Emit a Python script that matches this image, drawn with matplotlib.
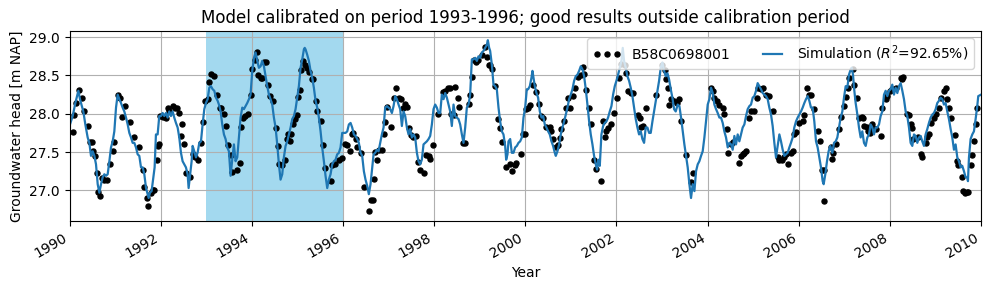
import matplotlib
matplotlib.use("Agg")
import matplotlib.pyplot as plt
import numpy as np

# observed heads (decimal year, m NAP)
obs_year = [
    1990.069, 1990.106, 1990.143, 1990.216, 1990.267, 1990.311, 1990.398, 1990.450, 1990.486, 1990.508,
    1990.567, 1990.603, 1990.632, 1990.676, 1990.713, 1990.764, 1990.815, 1990.895, 1990.947, 1990.983,
    1991.071, 1991.115, 1991.151, 1991.224, 1991.334, 1991.422, 1991.531, 1991.605, 1991.641, 1991.692,
    1991.729, 1991.780, 1991.824, 1991.853, 1991.911, 1991.933, 1991.970, 1991.992, 1992.043, 1992.116,
    1992.152, 1992.189, 1992.262, 1992.313, 1992.350, 1992.408, 1992.445, 1992.467, 1992.518, 1992.554,
    1992.643, 1992.701, 1992.760, 1992.810, 1992.884, 1992.935, 1992.971, 1993.030, 1993.067, 1993.096,
    1993.169, 1993.227, 1993.300,
    1993.315, 1993.388, 1993.424, 1993.475, 1993.534, 1993.556, 1993.680, 1993.731, 1993.768, 1993.804,
    1993.848, 1993.921, 1993.972, 1994.009, 1994.060, 1994.104, 1994.141, 1994.192, 1994.228, 1994.265,
    1994.301, 1994.353, 1994.389, 1994.462, 1994.521, 1994.572, 1994.594, 1994.652, 1994.718, 1994.762,
    1994.798, 1994.828, 1994.850, 1994.901, 1994.945, 1994.996, 1995.010, 1995.047, 1995.069, 1995.128,
    1995.164, 1995.208, 1995.252, 1995.310, 1995.347, 1995.398, 1995.435, 1995.508, 1995.559, 1995.595,
    1995.727, 1995.764, 1995.822, 1995.910, 1995.968, 1996.041, 1996.093, 1996.144, 1996.187, 1996.224,
    1996.275, 1996.312, 1996.385, 1996.458, 1996.567, 1996.604,
    1996.656, 1996.671, 1996.707, 1996.744, 1996.795, 1996.853, 1996.890, 1996.926, 1996.963, 1997.058,
    1997.109, 1997.168, 1997.219, 1997.270, 1997.314, 1997.365, 1997.402, 1997.438, 1997.489, 1997.533,
    1997.606, 1997.635, 1997.679, 1997.767, 1997.826, 1997.877, 1997.913, 1997.964, 1998.074, 1998.184,
    1998.242, 1998.293, 1998.337, 1998.374, 1998.425, 1998.461, 1998.520, 1998.556, 1998.622, 1998.681,
    1998.754, 1998.790, 1998.827, 1998.864, 1998.915, 1998.973, 1999.046, 1999.105, 1999.156, 1999.193,
    1999.229, 1999.280, 1999.339, 1999.390, 1999.434, 1999.485, 1999.580, 1999.668, 1999.704, 1999.763,
    1999.792, 1999.909, 1999.960,
    1999.989, 2000.026, 2000.062, 2000.099, 2000.172, 2000.245, 2000.296, 2000.355, 2000.391, 2000.464,
    2000.537, 2000.574, 2000.610, 2000.683, 2000.720, 2000.757, 2000.793, 2000.844, 2000.903, 2000.939,
    2000.976, 2001.049, 2001.085, 2001.159, 2001.217, 2001.268, 2001.290, 2001.341, 2001.393, 2001.451,
    2001.509, 2001.561, 2001.656, 2001.707, 2001.743, 2001.780, 2001.816, 2001.875, 2001.948, 2002.021,
    2002.058, 2002.094, 2002.182, 2002.204, 2002.255, 2002.313, 2002.365, 2002.474, 2002.526, 2002.548,
    2002.584, 2002.657, 2002.876, 2003.008, 2003.059, 2003.096, 2003.132, 2003.154, 2003.205, 2003.264,
    2003.322,
    2003.381, 2003.417, 2003.527, 2003.636, 2003.688, 2004.075, 2004.112, 2004.148, 2004.207, 2004.258,
    2004.331, 2004.353, 2004.426, 2004.455, 2004.514, 2004.550, 2004.682, 2004.733, 2004.769, 2004.806,
    2004.843, 2004.916, 2004.952, 2005.025, 2005.076, 2005.113, 2005.171, 2005.208, 2005.281, 2005.354,
    2005.427, 2005.537, 2005.574, 2005.625, 2005.669, 2005.720, 2005.756, 2005.829, 2005.866, 2005.902,
    2005.939, 2006.012, 2006.085, 2006.107, 2006.180, 2006.217, 2006.268, 2006.341, 2006.414, 2006.473,
    2006.502, 2006.560, 2006.546, 2006.707,
    2006.722, 2006.758, 2006.810, 2006.883, 2006.934, 2006.992, 2007.029, 2007.080, 2007.102, 2007.190,
    2007.212, 2007.270, 2007.321, 2007.380, 2007.416, 2007.431, 2007.489, 2007.519, 2007.563, 2007.614,
    2007.636, 2007.687, 2007.796, 2007.833, 2007.906, 2007.943, 2008.001, 2008.052, 2008.125, 2008.235,
    2008.272, 2008.294, 2008.381, 2008.418, 2008.454, 2008.491, 2008.513, 2008.615, 2008.674, 2008.710,
    2008.783, 2008.820, 2008.856, 2008.893, 2008.966, 2009.003, 2009.076, 2009.112, 2009.185, 2009.222,
    2009.258, 2009.295, 2009.346, 2009.427, 2009.463, 2009.500, 2009.573, 2009.609, 2009.639, 2009.683,
    2009.719, 2009.770, 2009.807, 2009.843, 2009.880, 2009.916,
]
obs_head = [
    27.76, 27.98, 28.14, 28.31, 28.20, 28.04, 27.84, 27.63, 27.63, 27.51,
    27.45, 27.22, 26.98, 26.93, 27.16, 27.14, 27.13, 27.34, 27.51, 27.63,
    28.25, 28.20, 27.96, 28.10, 27.89, 27.70, 27.57, 27.26, 27.04, 26.90,
    26.80, 26.96, 27.00, 27.00, 27.40, 27.58, 27.60, 27.97, 27.96, 27.95,
    28.07, 28.04, 28.10, 28.07, 28.08, 28.01, 27.71, 27.86, 27.61, 27.22,
    27.17, 27.47, 27.43, 27.40, 27.62, 27.89, 28.17, 28.19, 28.42, 28.52,
    28.49, 28.25, 28.08,
    28.08, 28.00, 27.84, 27.59, 27.46, 27.24, 27.27, 27.36, 27.83, 27.95,
    27.97, 28.00, 28.24, 28.58, 28.70, 28.81, 28.50, 28.47, 28.47, 28.67,
    28.67, 28.37, 28.23, 28.17, 27.82, 27.58, 27.34, 27.33, 27.40, 27.67,
    27.73, 27.65, 27.74, 27.86, 27.93, 27.99, 28.22, 28.31, 28.57, 28.69,
    28.64, 28.60, 28.55, 28.45, 28.46, 28.16, 28.03, 27.91, 27.59, 27.29,
    27.12, 27.33, 27.34, 27.40, 27.42, 27.60, 27.59, 27.52, 27.73, 27.75,
    27.67, 27.56, 27.49, 27.04, 26.73, 26.88,
    26.87, 27.15, 27.50, 27.40, 27.53, 27.53, 27.74, 27.89, 28.09, 27.83,
    28.20, 28.33, 28.20, 28.19, 28.07, 28.13, 28.09, 27.82, 27.72, 27.70,
    27.71, 27.37, 27.26, 27.22, 27.46, 27.45, 27.41, 27.59, 28.00, 28.28,
    28.30, 28.33, 28.33, 28.00, 27.98, 28.35, 28.20, 28.09, 27.62, 27.62,
    28.13, 28.25, 28.48, 28.70, 28.67, 28.70, 28.77, 28.87, 28.74, 28.64,
    28.63, 28.58, 28.36, 27.93, 27.82, 27.63, 27.30, 27.35, 27.25, 27.33,
    27.36, 27.48, 27.74,
    27.74, 28.06, 28.08, 28.11, 28.38, 28.28, 28.13, 27.97, 27.95, 27.83,
    27.83, 27.77, 27.67, 27.56, 27.59, 27.68, 27.80, 27.90, 28.08, 28.20,
    28.08, 28.23, 28.34, 28.48, 28.51, 28.61, 28.52, 28.31, 28.08, 27.87,
    27.39, 27.28, 27.12, 27.90, 27.69, 27.77, 27.82, 27.86, 28.01, 28.20,
    28.47, 28.65, 28.64, 28.53, 28.30, 28.27, 28.27, 27.98, 27.94, 27.83,
    27.84, 28.08, 28.24, 28.64, 28.57, 28.45, 28.34, 28.12, 28.19, 28.17,
    28.14,
    28.19, 27.90, 27.46, 27.11, 27.22, 28.34, 28.30, 28.21, 28.16, 28.11,
    28.08, 28.00, 27.80, 27.49, 27.60, 27.63, 27.36, 27.45, 27.47, 27.49,
    27.51, 27.95, 28.04, 28.03, 28.20, 28.34, 28.32, 28.34, 28.24, 28.23,
    28.04, 27.43, 27.39, 27.40, 27.43, 27.48, 27.34, 27.49, 27.51, 27.74,
    27.76, 27.88, 27.90, 27.98, 28.33, 28.25, 28.24, 28.06, 27.78, 27.64,
    27.26, 27.27, 26.86, 27.56,
    27.41, 27.49, 27.61, 27.80, 27.96, 28.10, 28.22, 28.34, 28.47, 28.58,
    28.38, 28.21, 27.95, 27.96, 27.95, 27.84, 27.83, 27.77, 27.75, 27.86,
    27.82, 27.80, 27.71, 28.08, 28.19, 28.23, 28.30, 28.32, 28.34, 28.47,
    28.45, 28.48, 28.00, 27.99, 27.86, 27.82, 27.67, 27.70, 27.47, 27.43,
    27.62, 27.69, 27.74, 27.88, 27.95, 28.00, 28.08, 28.21, 28.30, 28.34,
    28.19, 28.08, 27.94, 27.72, 27.38, 27.33, 27.17, 26.99, 26.97, 26.98,
    26.98, 27.33, 27.46, 27.64, 27.86, 28.08,
]

# simulated heads (decimal year, m NAP)
sim_year = [
    1990.010, 1990.069, 1990.128, 1990.194, 1990.230, 1990.252, 1990.303, 1990.347, 1990.398, 1990.435,
    1990.471, 1990.508, 1990.545, 1990.581, 1990.618, 1990.654, 1990.691, 1990.727, 1990.764, 1990.800,
    1990.837, 1990.874, 1990.910, 1990.947, 1990.983, 1991.020, 1991.056, 1991.093, 1991.129, 1991.166,
    1991.202, 1991.239, 1991.276, 1991.312, 1991.349, 1991.385, 1991.422, 1991.458, 1991.495, 1991.531,
    1991.568, 1991.605, 1991.641, 1991.678, 1991.714, 1991.736, 1991.765, 1991.801, 1991.838, 1991.867,
    1991.896, 1991.933, 1991.969, 1992.006, 1992.043, 1992.079, 1992.116, 1992.152, 1992.189, 1992.225,
    1992.262, 1992.298, 1992.335, 1992.372, 1992.408, 1992.445, 1992.481, 1992.518, 1992.554, 1992.591,
    1992.613, 1992.643, 1992.679, 1992.701, 1992.737, 1992.774, 1992.810, 1992.847, 1992.884, 1992.920,
    1992.957, 1992.993, 1993.030, 1993.067, 1993.103, 1993.140, 1993.176, 1993.213, 1993.249,
    1993.278, 1993.315, 1993.351, 1993.388, 1993.424, 1993.461, 1993.497, 1993.534, 1993.570, 1993.607,
    1993.643, 1993.680, 1993.717, 1993.753, 1993.790, 1993.826, 1993.863, 1993.899, 1993.936, 1993.972,
    1994.009, 1994.046, 1994.082, 1994.119, 1994.155, 1994.192, 1994.228, 1994.265, 1994.301, 1994.338,
    1994.375, 1994.411, 1994.448, 1994.484, 1994.521, 1994.557, 1994.594, 1994.630, 1994.667, 1994.703,
    1994.740, 1994.777, 1994.813, 1994.850, 1994.886, 1994.923, 1994.959, 1994.996, 1995.032, 1995.069,
    1995.106, 1995.142, 1995.160, 1995.179, 1995.215, 1995.252, 1995.288, 1995.325, 1995.361, 1995.398,
    1995.435, 1995.471, 1995.508, 1995.544, 1995.581, 1995.617, 1995.654, 1995.690, 1995.727, 1995.764,
    1995.800, 1995.837, 1995.873, 1995.910, 1995.946, 1995.983, 1996.019, 1996.056, 1996.093, 1996.129,
    1996.166, 1996.202, 1996.239, 1996.275, 1996.312, 1996.348, 1996.385, 1996.421, 1996.458, 1996.494,
    1996.531, 1996.567, 1996.604,
    1996.634, 1996.671, 1996.707, 1996.744, 1996.780, 1996.817, 1996.853, 1996.890, 1996.926, 1996.963,
    1997.000, 1997.036, 1997.073, 1997.109, 1997.146, 1997.182, 1997.219, 1997.255, 1997.292, 1997.328,
    1997.365, 1997.402, 1997.438, 1997.475, 1997.511, 1997.548, 1997.584, 1997.621, 1997.657, 1997.694,
    1997.730, 1997.767, 1997.804, 1997.840, 1997.877, 1997.913, 1997.950, 1997.986, 1998.023, 1998.059,
    1998.096, 1998.133, 1998.169, 1998.206, 1998.242, 1998.279, 1998.315, 1998.352, 1998.388, 1998.425,
    1998.461, 1998.498, 1998.535, 1998.571, 1998.608, 1998.644, 1998.681, 1998.717, 1998.754, 1998.790,
    1998.827, 1998.864, 1998.900, 1998.937, 1998.973, 1999.010, 1999.046, 1999.083, 1999.119, 1999.156,
    1999.178, 1999.207, 1999.229, 1999.266, 1999.302, 1999.339, 1999.375, 1999.412, 1999.448, 1999.485,
    1999.521, 1999.558, 1999.580, 1999.609, 1999.631, 1999.668, 1999.704, 1999.741, 1999.777, 1999.814,
    1999.850, 1999.887, 1999.924, 1999.960, 1999.997, 2000.033,
    2000.062, 2000.099, 2000.135, 2000.157, 2000.186, 2000.208, 2000.245, 2000.281, 2000.318, 2000.355,
    2000.391, 2000.428, 2000.464, 2000.501, 2000.537, 2000.574, 2000.610, 2000.647, 2000.669, 2000.705,
    2000.742, 2000.778, 2000.815, 2000.852, 2000.888, 2000.925, 2000.961, 2000.998, 2001.034, 2001.071,
    2001.107, 2001.144, 2001.181, 2001.217, 2001.254, 2001.290, 2001.327, 2001.363, 2001.400, 2001.436,
    2001.473, 2001.509, 2001.546, 2001.575, 2001.604, 2001.634, 2001.670, 2001.707, 2001.743, 2001.780,
    2001.816, 2001.853, 2001.890, 2001.926, 2001.963, 2001.999, 2002.036, 2002.072, 2002.109, 2002.138,
    2002.167, 2002.204, 2002.240, 2002.277, 2002.313, 2002.350, 2002.387, 2002.423, 2002.460, 2002.496,
    2002.533, 2002.569, 2002.606, 2002.642, 2002.679, 2002.716, 2002.752, 2002.789, 2002.825, 2002.862,
    2002.898, 2002.935, 2002.971, 2003.008, 2003.045, 2003.081, 2003.118, 2003.154, 2003.191, 2003.227,
    2003.264, 2003.300,
    2003.344, 2003.381, 2003.417, 2003.454, 2003.490, 2003.527, 2003.563, 2003.600, 2003.636, 2003.673,
    2003.710, 2003.746, 2003.783, 2003.819, 2003.856, 2003.892, 2003.929, 2003.965, 2004.002, 2004.038,
    2004.075, 2004.112, 2004.148, 2004.185, 2004.221, 2004.258, 2004.294, 2004.331, 2004.367, 2004.404,
    2004.441, 2004.477, 2004.514, 2004.550, 2004.587, 2004.623, 2004.660, 2004.696, 2004.733, 2004.769,
    2004.806, 2004.843, 2004.879, 2004.916, 2004.952, 2004.989, 2005.025, 2005.062, 2005.098, 2005.135,
    2005.171, 2005.208, 2005.245, 2005.281, 2005.318, 2005.354, 2005.391, 2005.427, 2005.464, 2005.500,
    2005.537, 2005.574, 2005.610, 2005.647, 2005.683, 2005.720, 2005.756, 2005.793, 2005.829, 2005.866,
    2005.902, 2005.939, 2005.976, 2006.012, 2006.049, 2006.085, 2006.122, 2006.158, 2006.195, 2006.231,
    2006.268, 2006.304, 2006.341, 2006.378, 2006.414, 2006.451, 2006.487, 2006.524, 2006.546, 2006.582,
    2006.619, 2006.655, 2006.692,
    2006.737, 2006.773, 2006.810, 2006.846, 2006.883, 2006.919, 2006.956, 2006.992, 2007.029, 2007.065,
    2007.102, 2007.139, 2007.161, 2007.190, 2007.212, 2007.248, 2007.285, 2007.321, 2007.358, 2007.394,
    2007.431, 2007.468, 2007.504, 2007.541, 2007.577, 2007.614, 2007.650, 2007.687, 2007.723, 2007.760,
    2007.796, 2007.833, 2007.870, 2007.906, 2007.943, 2007.979, 2008.016, 2008.052, 2008.089, 2008.125,
    2008.162, 2008.199, 2008.235, 2008.272, 2008.308, 2008.345, 2008.381, 2008.418, 2008.454, 2008.491,
    2008.528, 2008.564, 2008.601, 2008.637, 2008.674, 2008.710, 2008.747, 2008.783, 2008.820, 2008.856,
    2008.893, 2008.930, 2008.966, 2009.003, 2009.039, 2009.076, 2009.112, 2009.149, 2009.185, 2009.222,
    2009.258, 2009.295, 2009.332, 2009.368, 2009.405, 2009.441, 2009.478, 2009.514, 2009.551, 2009.587,
    2009.624, 2009.661, 2009.697, 2009.712, 2009.734, 2009.770, 2009.807, 2009.843, 2009.880, 2009.916,
    2009.938, 2010.000,
]
sim_head = [
    27.86, 27.97, 28.14, 28.30, 28.19, 28.14, 28.03, 27.86, 27.69, 27.62,
    27.45, 27.51, 27.45, 27.34, 27.08, 26.97, 27.08, 27.17, 27.21, 27.19,
    27.21, 27.38, 27.56, 27.64, 27.77, 28.08, 28.25, 28.19, 28.14, 28.08,
    28.03, 27.95, 27.86, 27.75, 27.69, 27.62, 27.62, 27.56, 27.47, 27.45,
    27.30, 27.30, 27.21, 27.03, 26.95, 26.90, 26.97, 26.99, 27.17, 27.30,
    27.73, 27.73, 27.97, 27.97, 28.01, 27.97, 28.01, 27.95, 28.03, 27.97,
    28.03, 27.95, 27.88, 27.82, 27.69, 27.49, 27.38, 27.34, 27.30, 27.21,
    27.03, 27.19, 27.38, 27.58, 27.51, 27.43, 27.49, 27.62, 27.64, 27.86,
    28.06, 28.14, 28.19, 28.34, 28.36, 28.32, 28.30, 28.21, 28.17,
    28.12, 28.03, 27.86, 27.73, 27.67, 27.56, 27.51, 27.19, 27.40, 27.60,
    27.38, 27.43, 27.69, 27.95, 28.08, 28.06, 28.10, 28.14, 28.19, 28.25,
    28.56, 28.73, 28.80, 28.69, 28.60, 28.62, 28.69, 28.62, 28.49, 28.36,
    28.25, 28.19, 28.12, 27.95, 27.82, 27.60, 27.34, 27.14, 27.21, 27.43,
    27.58, 27.64, 27.73, 27.82, 27.93, 27.97, 28.06, 28.21, 28.36, 28.60,
    28.71, 28.84, 28.86, 28.84, 28.77, 28.69, 28.56, 28.47, 28.34, 28.17,
    28.08, 27.95, 27.77, 27.56, 27.38, 27.19, 27.03, 27.14, 27.21, 27.34,
    27.38, 27.40, 27.47, 27.49, 27.56, 27.75, 27.75, 27.75, 27.77, 27.86,
    27.88, 27.82, 27.73, 27.71, 27.67, 27.62, 27.49, 27.45, 27.25, 27.14,
    27.06, 26.95, 27.08,
    27.25, 27.47, 27.49, 27.53, 27.51, 27.62, 27.73, 27.82, 28.08, 28.10,
    28.08, 28.06, 28.01, 28.10, 28.23, 28.19, 28.12, 28.06, 27.84, 28.03,
    27.97, 27.82, 27.73, 27.80, 27.69, 27.73, 27.69, 27.49, 27.38, 27.34,
    27.40, 27.60, 27.62, 27.64, 27.67, 27.71, 27.86, 28.06, 28.12, 28.08,
    28.01, 28.01, 28.25, 28.19, 28.27, 28.21, 28.12, 28.03, 27.84, 28.12,
    27.97, 27.95, 27.93, 27.86, 27.73, 27.62, 27.82, 28.08, 28.12, 28.25,
    28.71, 28.71, 28.73, 28.69, 28.75, 28.73, 28.80, 28.82, 28.86, 28.90,
    28.96, 28.86, 28.82, 28.64, 28.38, 28.36, 28.32, 28.08, 27.90, 27.77,
    27.73, 27.58, 27.40, 27.47, 27.64, 27.67, 27.49, 27.49, 27.56, 27.58,
    27.62, 27.64, 27.69, 27.95, 28.08, 28.32,
    28.32, 28.36, 28.47, 28.56, 28.45, 28.36, 28.27, 28.21, 28.03, 27.95,
    27.97, 27.86, 27.82, 27.77, 27.73, 27.64, 27.58, 27.49, 27.45, 27.51,
    27.60, 27.73, 27.82, 27.90, 27.99, 28.08, 28.19, 28.25, 28.32, 28.43,
    28.49, 28.51, 28.56, 28.62, 28.58, 28.49, 28.32, 28.12, 27.90, 27.73,
    27.60, 27.45, 27.34, 27.27, 27.40, 27.32, 27.73, 27.84, 27.88, 27.90,
    27.95, 28.03, 28.10, 28.25, 28.36, 28.43, 28.51, 28.60, 28.69, 28.86,
    28.69, 28.60, 28.49, 28.43, 28.34, 28.23, 28.08, 27.93, 27.82, 27.73,
    27.77, 27.67, 27.62, 27.82, 27.82, 27.75, 27.75, 27.90, 28.03, 28.17,
    28.30, 28.43, 28.60, 28.67, 28.56, 28.49, 28.53, 28.45, 28.32, 28.21,
    28.06, 28.03,
    28.12, 28.10, 27.95, 27.77, 27.60, 27.45, 27.30, 27.08, 26.90, 27.08,
    26.99, 27.25, 27.34, 27.38, 27.45, 27.51, 27.69, 27.90, 28.12, 28.19,
    28.34, 28.27, 28.12, 28.06, 28.01, 27.95, 27.95, 27.88, 27.77, 27.69,
    27.56, 27.62, 27.60, 27.53, 27.71, 27.60, 27.73, 27.64, 27.73, 27.82,
    27.86, 27.97, 28.06, 28.10, 28.12, 28.21, 28.23, 28.30, 28.40, 28.36,
    28.32, 28.27, 28.25, 28.23, 28.19, 28.08, 27.99, 27.84, 27.62, 27.43,
    27.58, 27.73, 27.64, 27.53, 27.45, 27.47, 27.49, 27.56, 27.62, 27.69,
    27.82, 27.90, 27.95, 27.99, 28.03, 28.08, 28.14, 28.19, 28.23, 28.17,
    28.08, 28.08, 27.90, 27.64, 27.56, 27.43, 27.30, 27.12, 27.08, 27.21,
    27.38, 27.51, 27.58,
    27.49, 27.62, 27.64, 27.69, 27.82, 27.95, 28.03, 28.21, 28.36, 28.34,
    28.51, 28.58, 28.60, 28.51, 28.34, 28.14, 27.99, 27.82, 27.69, 27.77,
    27.62, 27.58, 27.69, 27.73, 27.86, 27.82, 27.73, 27.82, 27.82, 27.86,
    27.97, 28.03, 28.25, 28.30, 28.23, 28.30, 28.32, 28.38, 28.25, 28.34,
    28.27, 28.36, 28.40, 28.30, 28.19, 28.03, 27.97, 27.82, 27.62, 27.58,
    27.73, 27.71, 27.62, 27.69, 27.71, 27.64, 27.58, 27.73, 27.80, 27.88,
    27.95, 27.99, 28.01, 28.06, 28.14, 28.17, 28.21, 28.19, 28.12, 28.14,
    28.03, 27.93, 27.80, 27.69, 27.53, 27.60, 27.43, 27.38, 27.30, 27.32,
    27.25, 27.17, 27.17, 27.12, 27.43, 27.67, 27.73, 27.77, 27.93, 28.10,
    28.23, 28.25,
]

calib_start, calib_end = 1993, 1996
r2 = 92.65

fig = plt.figure(figsize=(9.89, 2.90), dpi=100)
ax = fig.add_axes([0.0703, 0.238, 0.9217, 0.655])

ax.axvspan(calib_start, calib_end, color="#a3d9ef", lw=0)
ax.plot(obs_year, obs_head, "o", color="k", ms=3.6, label="B58C0698001")
ax.plot(sim_year, sim_head, color="C0", lw=1.6,
        label="Simulation ($R^2$=%.2f%%)" % r2)

ax.set_xlim(1990, 2010)
ax.set_ylim(26.6, 29.08)
years = np.arange(1990, 2011, 2)
ax.set_xticks(years)
ax.set_xticklabels([str(y) for y in years], rotation=30, ha="right")
ax.set_yticks([27.0, 27.5, 28.0, 28.5, 29.0])
ax.set_yticklabels(["27.0", "27.5", "28.0", "28.5", "29.0"])
ax.grid(True)
ax.set_xlabel("Year")
ax.set_ylabel("Groundwater head [m NAP]")
ax.set_title("Model calibrated on period 1993-1996; good results outside calibration period")
ax.legend(loc="upper right", ncol=2, numpoints=3)

fig.savefig("out.png", dpi=100)
